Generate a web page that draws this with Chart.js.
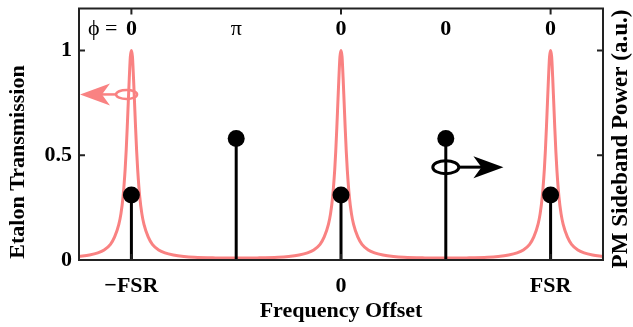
<!DOCTYPE html>
<html>
<head>
<meta charset="utf-8">
<script src="https://cdn.jsdelivr.net/npm/chart.js@4"></script>
<style>
  html, body { margin: 0; padding: 0; background: #fff; }
  #wrap { width: 633px; height: 327px; }
</style>
</head>
<body>
<div id="wrap"><canvas id="grafik"></canvas></div>
<script>
// etalon transmission (x in units of FSR)
const curveX = [
    -1.25, -1.2, -1.16, -1.13, -1.1, -1.08, -1.06, -1.05, -1.04, -1.03, -1.025, -1.02, -1.015, -1.01, -1.005,
    -1, -0.995, -0.99, -0.985, -0.98, -0.975, -0.97, -0.96, -0.95, -0.94, -0.92, -0.9, -0.87, -0.84, -0.8,
    -0.75, -0.7, -0.6, -0.5, -0.4, -0.3, -0.25, -0.2, -0.16, -0.13, -0.1, -0.08, -0.06, -0.05, -0.04,
    -0.03, -0.025, -0.02, -0.015, -0.01, -0.005, 0, 0.005, 0.01, 0.015, 0.02, 0.025, 0.03, 0.04, 0.05,
    0.06, 0.08, 0.1, 0.13, 0.16, 0.2, 0.25, 0.3, 0.4, 0.5, 0.6, 0.7, 0.75, 0.8, 0.84,
    0.87, 0.9, 0.92, 0.94, 0.95, 0.96, 0.97, 0.975, 0.98, 0.985, 0.99, 0.995, 1, 1.005, 1.01,
    1.015, 1.02, 1.025, 1.03, 1.04, 1.05, 1.06, 1.08, 1.1, 1.13, 1.16, 1.2, 1.25
];
const curveT = [
    0.017, 0.024, 0.034, 0.048, 0.075, 0.11, 0.17, 0.22, 0.30, 0.43, 0.52, 0.63, 0.75, 0.87, 0.97,
    1.00, 0.97, 0.87, 0.75, 0.63, 0.52, 0.43, 0.30, 0.22, 0.17, 0.11, 0.075, 0.048, 0.034, 0.024,
    0.017, 0.013, 0.010, 0.009, 0.010, 0.013, 0.017, 0.024, 0.034, 0.048, 0.075, 0.11, 0.17, 0.22, 0.30,
    0.43, 0.52, 0.63, 0.75, 0.87, 0.97, 1.00, 0.97, 0.87, 0.75, 0.63, 0.52, 0.43, 0.30, 0.22,
    0.17, 0.11, 0.075, 0.048, 0.034, 0.024, 0.017, 0.013, 0.010, 0.009, 0.010, 0.013, 0.017, 0.024, 0.034,
    0.048, 0.075, 0.11, 0.17, 0.22, 0.30, 0.43, 0.52, 0.63, 0.75, 0.87, 0.97, 1.00, 0.97, 0.87,
    0.75, 0.63, 0.52, 0.43, 0.30, 0.22, 0.17, 0.11, 0.075, 0.048, 0.034, 0.024, 0.017
];

// PM sidebands
const sideX = [-1, -0.5, 0, 0.5, 1];
const sidePower = [0.31, 0.58, 0.31, 0.58, 0.31];
const sidePhase = ["0", "π", "0", "0", "0"];

const xTicks = [-1, 0, 1];
const xTickLabels = ["\u2212FSR", "0", "FSR"];
const yTicks = [0, 0.5, 1];
const yTickLabels = ["0", "0.5", "1"];

const PINK = "#f98282";
const FONT = "'Liberation Serif', 'DejaVu Serif', serif";

const stemSets = sideX.map((x, i) => ({
    type: "line",
    data: [{ x: x, y: 0 }, { x: x, y: sidePower[i] }],
    yAxisID: "y2",
    borderColor: "#000",
    borderWidth: 3,
    pointRadius: [0, 8.5],
    pointBackgroundColor: "#000",
    pointBorderWidth: 0,
    order: 0
}));

function arrowHead(ctx, tipX, y, dir, len, half, notch) {
    ctx.beginPath();
    ctx.moveTo(tipX, y);
    ctx.lineTo(tipX + dir * len, y - half);
    ctx.lineTo(tipX + dir * notch, y);
    ctx.lineTo(tipX + dir * len, y + half);
    ctx.closePath();
    ctx.fill();
}

const decor = {
    id: "decor",
    afterDatasetsDraw(chart) {
        const ctx = chart.ctx;
        const a = chart.chartArea;
        const xs = chart.scales.x, ys = chart.scales.y, y2 = chart.scales.y2;
        ctx.save();

        // frame + inward ticks
        ctx.strokeStyle = "#222";
        ctx.lineWidth = 2;
        ctx.strokeRect(a.left, a.top, a.right - a.left, a.bottom - a.top);
        ctx.beginPath();
        yTicks.forEach(v => {
            const p = ys.getPixelForValue(v);
            ctx.moveTo(a.left, p); ctx.lineTo(a.left + 6, p);
            ctx.moveTo(a.right, p); ctx.lineTo(a.right - 6, p);
        });
        xTicks.forEach(v => {
            const p = xs.getPixelForValue(v);
            ctx.moveTo(p, a.top); ctx.lineTo(p, a.top + 6);
            ctx.moveTo(p, a.bottom); ctx.lineTo(p, a.bottom - 6);
        });
        ctx.stroke();

        // phase labels
        ctx.fillStyle = "#000";
        ctx.textBaseline = "alphabetic";
        ctx.textAlign = "center";
        sideX.forEach((x, i) => {
            const ph = sidePhase[i];
            ctx.font = (ph === "π" ? "" : "bold ") + "22px " + FONT;
            ctx.fillText(ph, xs.getPixelForValue(x), 35);
        });
        ctx.font = "22px " + FONT;
        ctx.textAlign = "right";
        ctx.fillText("\u03D5 =", xs.getPixelForValue(sideX[0]) - 14, 35);

        // pink arrow -> left axis
        let cx = xs.getPixelForValue(-1.023), cy = ys.getPixelForValue(0.79);
        ctx.strokeStyle = PINK;
        ctx.fillStyle = PINK;
        ctx.lineWidth = 2.5;
        ctx.beginPath();
        ctx.ellipse(cx, cy, 10.5, 4.5, 0, 0, Math.PI * 2);
        ctx.stroke();
        ctx.beginPath();
        ctx.moveTo(cx - 10.5, cy); ctx.lineTo(a.left + 20, cy);
        ctx.stroke();
        arrowHead(ctx, a.left + 1, cy, 1, 30, 11, 22);

        // black arrow -> right axis
        cx = xs.getPixelForValue(0.5); cy = y2.getPixelForValue(0.443);
        const tip = xs.getPixelForValue(0.775);
        ctx.strokeStyle = "#000";
        ctx.fillStyle = "#000";
        ctx.lineWidth = 3;
        ctx.beginPath();
        ctx.ellipse(cx, cy, 13, 6.5, 0, 0, Math.PI * 2);
        ctx.stroke();
        ctx.beginPath();
        ctx.moveTo(cx + 13, cy); ctx.lineTo(tip - 20, cy);
        ctx.stroke();
        arrowHead(ctx, tip, cy, -1, 30, 11, 22);

        // axis titles
        ctx.font = "bold 22px " + FONT;
        ctx.fillStyle = "#000";
        ctx.textAlign = "center";
        ctx.textBaseline = "middle";
        ctx.fillText("Frequency Offset", (a.left + a.right) / 2, 311);
        ctx.save();
        ctx.translate(18, 162);
        ctx.rotate(-Math.PI / 2);
        ctx.fillText("Etalon Transmission", 0, 0);
        ctx.restore();
        ctx.font = "bold 23px " + FONT;
        ctx.save();
        ctx.translate(621, 139);
        ctx.rotate(-Math.PI / 2);
        ctx.fillText("PM Sideband Power (a.u.)", 0, 0);
        ctx.restore();

        ctx.restore();
    }
};

const tickFont = { family: FONT, size: 22, weight: "bold" };

function noPadV(s) { s.paddingTop = 0; s.paddingBottom = 0; }
function noPadH(s) { s.paddingLeft = 0; s.paddingRight = 0; }

new Chart(document.getElementById("grafik").getContext("2d"), {
    type: "line",
    data: {
        datasets: [
            ...stemSets,
            {
                label: "Etalon Transmission",
                data: curveX.map((x, i) => ({ x: x, y: curveT[i] })),
                yAxisID: "y",
                borderColor: PINK,
                borderWidth: 3,
                pointRadius: 0,
                cubicInterpolationMode: "monotone",
                order: 1
            }
        ]
    },
    options: {
        responsive: true,
        maintainAspectRatio: false,
        animation: false,
        layout: { padding: { top: 1.5, left: 0, right: 0, bottom: 0 } },
        plugins: { legend: { display: false }, tooltip: { enabled: false } },
        scales: {
            x: {
                type: "linear",
                min: -1.25,
                max: 1.25,
                afterBuildTicks: s => { s.ticks = xTicks.map(v => ({ value: v })); },
                afterFit: s => { s.height = 67; noPadH(s); },
                ticks: {
                    font: tickFont,
                    color: "#000",
                    padding: 13,
                    maxRotation: 0,
                    callback: v => xTickLabels[xTicks.indexOf(v)]
                },
                grid: { display: false, drawTicks: false },
                border: { display: false }
            },
            y: {
                position: "left",
                min: 0,
                max: 1.2,
                afterBuildTicks: s => { s.ticks = yTicks.map(v => ({ value: v })); },
                afterFit: s => { s.width = 79; noPadV(s); },
                ticks: {
                    font: tickFont,
                    color: "#000",
                    padding: 7,
                    callback: v => yTickLabels[yTicks.indexOf(v)]
                },
                grid: { display: false, drawTicks: false },
                border: { display: false }
            },
            y2: {
                position: "right",
                min: 0,
                max: 1.2,
                afterFit: s => { s.width = 30; noPadV(s); },
                ticks: { display: false },
                grid: { display: false, drawTicks: false },
                border: { display: false }
            }
        }
    },
    plugins: [decor]
});
</script>
</body>
</html>
